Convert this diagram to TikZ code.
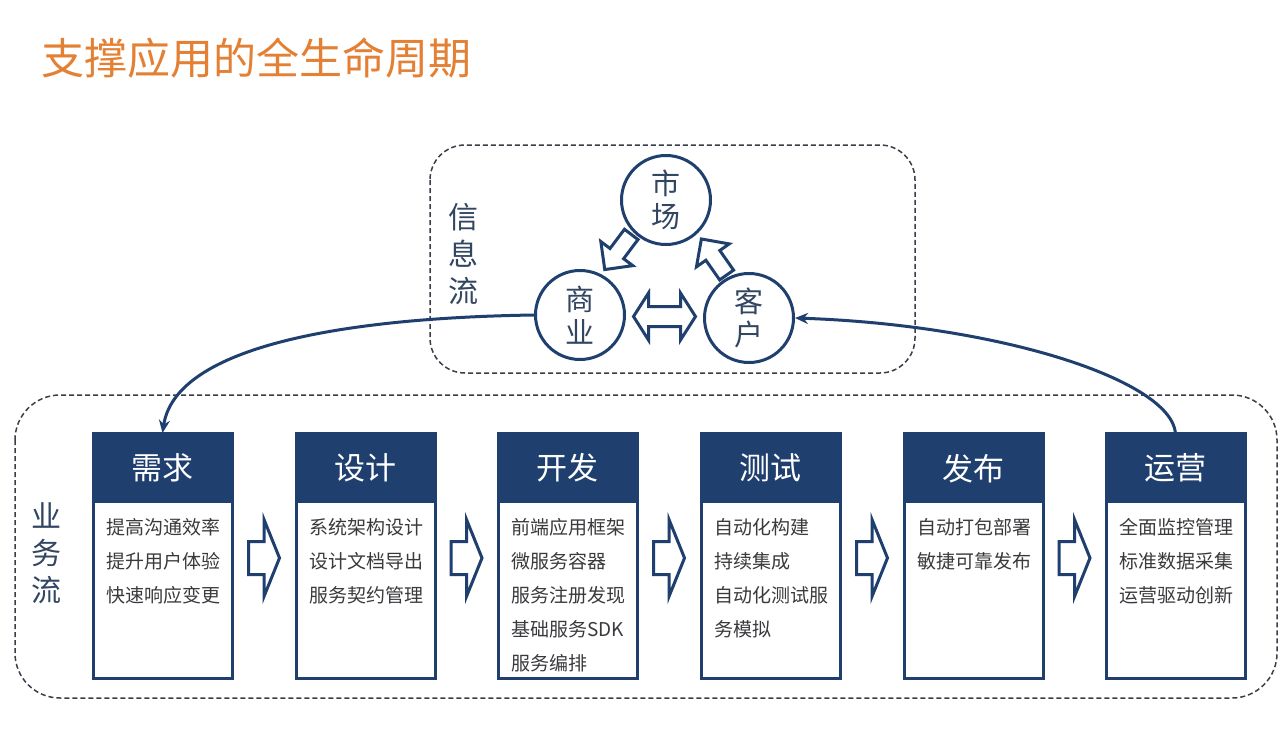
\documentclass[tikz,border=0pt]{standalone}
\usepackage{fontspec}
\setmainfont{Noto Sans CJK SC}
\usepackage{xcolor}
\definecolor{navyblue}{RGB}{31, 63, 110}
\definecolor{titleorange}{RGB}{228, 128, 52}
\definecolor{labelslate}{RGB}{50, 70, 98}
\definecolor{itemgray}{RGB}{58, 58, 62}
\definecolor{dashgray}{RGB}{58, 62, 72}
\usetikzlibrary{arrows.meta, positioning, calc}

\tikzset{
    flowframe/.style={draw=dashgray, line width=1.5pt, dash pattern=on 5pt off 3pt},
    flowlabel/.style={text=labelslate, font=\fontsize{30}{37}\selectfont, align=center, inner sep=0pt},
    marketnode/.style={circle, draw=navyblue, line width=3pt, minimum size=89pt, inner sep=0pt,
        text=labelslate, font=\fontsize{29}{33}\selectfont, align=center},
    stagebox/.style={draw=navyblue, line width=3pt, fill=white, minimum width=139pt,
        minimum height=245pt, anchor=north west, inner sep=0pt, outer sep=0pt},
    stagehead/.style={fill=navyblue, text=white, minimum width=139pt, minimum height=70pt,
        anchor=north, inner sep=0pt, font=\fontsize{31}{31}\selectfont},
    stageitems/.style={anchor=north west, inner sep=0pt, text=itemgray, align=left,
        font=\fontsize{19}{34}\selectfont},
    blockarrow/.style={draw=navyblue, line width=3pt, fill=white, line join=miter},
    flowlink/.style={draw=navyblue, line width=3pt, -{Stealth[length=13pt, width=11pt]}},
    stagearrow/.pic={\draw[blockarrow] (-15.5,-16.5) -- (0,-16.5) -- (0,-38.5) -- (15.5,0)
        -- (0,38.5) -- (0,16.5) -- (-15.5,16.5) -- cycle;},
    infoarrow/.pic={\draw[blockarrow] (-22,-8.5) -- (2,-8.5) -- (2,-20) -- (22,0)
        -- (2,20) -- (2,8.5) -- (-22,8.5) -- cycle;},
    swaparrow/.pic={\draw[blockarrow] (-31,0) -- (-16,-23.5) -- (-16,-10) -- (16,-10)
        -- (16,-23.5) -- (31,0) -- (16,23.5) -- (16,10) -- (-16,10) -- (-16,23.5) -- cycle;},
}

\begin{document}
\begin{tikzpicture}[x=1pt, y=-1pt, >=Stealth]
    \fill[white] (0,0) rectangle (1280,739);
    \useasboundingbox (0,0) rectangle (1280,739);

    % title
    \node[anchor=west, inner sep=0pt, text=titleorange, font=\fontsize{43}{43}\selectfont] (title)
        at (41,58) {支撑应用的全生命周期};

    % information flow
    \draw[flowframe, rounded corners=35pt] (430,145) rectangle (915,373);
    \node[flowlabel] (infolabel) at (463,254) {信\\息\\流};
    \node[marketnode] (mkt) at (666,200) {市\\场};
    \node[marketnode] (biz) at (580,315) {商\\业};
    \node[marketnode] (cust) at (749,318) {客\\户};
    \pic[rotate=233] at (618,252) {infoarrow};
    \pic[rotate=125] at (714,257) {infoarrow};
    \pic at ($(biz)!0.5!(cust)$) {swaparrow};

    % business flow
    \draw[flowframe, rounded corners=45pt] (15,395) rectangle (1277,698);
    \node[flowlabel] (bizlabel) at (46,553) {业\\务\\流};
    \foreach \name/\x/\title/\items in {
        req/93/需求/{提高沟通效率\\提升用户体验\\快速响应变更},
        des/296/设计/{系统架构设计\\设计文档导出\\服务契约管理},
        dev/498/开发/{前端应用框架\\微服务容器\\服务注册发现\\基础服务SDK\\服务编排},
        test/701/测试/{自动化构建\\持续集成\\自动化测试服\\务模拟},
        rel/904/发布/{自动打包部署\\敏捷可靠发布},
        ops/1106/运营/{全面监控管理\\标准数据采集\\运营驱动创新}} {
        \node[stagebox] (\name) at (\x,433) {};
        \node[stagehead] (\name-head) at (\name.north) {\title};
        \node[stageitems] (\name-items) at ([xshift=13pt, yshift=-15pt]\name-head.south west) {\items};
    }
    \foreach \a/\b in {req/des, des/dev, dev/test, test/rel, rel/ops}
        \pic at ($(\a.east)!0.5!(\b.west) + (0,2.5)$) {stagearrow};

    % links between the two flows
    \draw[flowlink] (biz.west) .. controls (330,318) and (175,350) .. (req.north);
    \draw[flowlink] (ops.north) .. controls (1170,380) and (1000,325) .. (cust.east);
\end{tikzpicture}
\end{document}
